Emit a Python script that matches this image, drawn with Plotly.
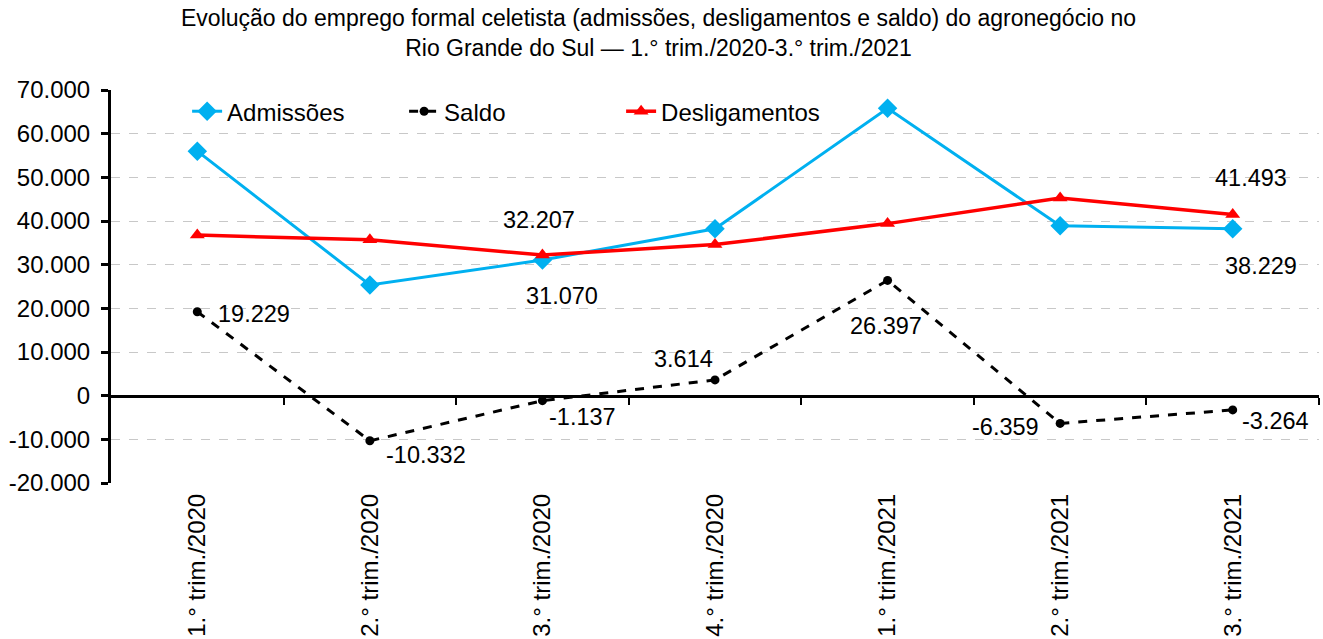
import plotly.graph_objects as go

# --- Data ---
trimestres = ["1.° trim./2020", "2.° trim./2020", "3.° trim./2020", "4.° trim./2020",
              "1.° trim./2021", "2.° trim./2021", "3.° trim./2021"]
admissoes = [56000, 25370, 31070, 38210, 65800, 38900, 38229]
desligamentos = [36771, 35702, 32207, 34596, 39403, 45259, 41493]
saldo = [19229, -10332, -1137, 3614, 26397, -6359, -3264]
y_ticks = [-20000, -10000, 0, 10000, 20000, 30000, 40000, 50000, 60000, 70000]

xs = list(range(len(trimestres)))
FONT = "Liberation Sans, Arial, sans-serif"


def fmt(v):
    # brazilian style thousands separator, plain hyphen for negatives
    return f"{v:,}".replace(",", ".")


fig = go.Figure()

fig.add_trace(go.Scatter(
    x=xs, y=admissoes, name="Admissões", mode="lines+markers",
    line=dict(color="#00b0f0", width=3),
    marker=dict(symbol="diamond", size=15, color="#00b0f0"),
))
fig.add_trace(go.Scatter(
    x=xs, y=saldo, name="Saldo", mode="lines+markers",
    line=dict(color="black", width=3, dash="dash"),
    marker=dict(symbol="circle", size=9, color="black"),
))
fig.add_trace(go.Scatter(
    x=xs, y=desligamentos, name="Desligamentos", mode="lines+markers",
    line=dict(color="#ff0000", width=3.5),
    marker=dict(symbol="triangle-up", size=13, color="#ff0000"),
))

# --- data labels (series, index, xshift, yshift) ---
labels = [
    (saldo, 0, 57, -2), (saldo, 1, 56, -14), (saldo, 2, 40, -16),
    (saldo, 3, -32, 21), (saldo, 4, -2, -46), (saldo, 5, -55, -4),
    (saldo, 6, 43, -11),
    (desligamentos, 2, -3, 35), (desligamentos, 6, 18, 36),
    (admissoes, 2, 20, -36), (admissoes, 6, 28, -37),
]
for serie, i, dx, dy in labels:
    fig.add_annotation(
        x=xs[i], y=serie[i], text=fmt(serie[i]), showarrow=False,
        xshift=dx, yshift=dy, font=dict(size=23.5, color="black", family=FONT),
    )

# title as annotation so both lines stay on the page
fig.add_annotation(
    text="Evolução do emprego formal celetista (admissões, desligamentos e saldo) do agronegócio no<br>"
         "Rio Grande do Sul — 1.° trim./2020-3.° trim./2021",
    xref="paper", yref="paper", x=(658 - 111) / 1208, y=1.222,
    xanchor="center", yanchor="top", showarrow=False, align="center",
    font=dict(size=23, family=FONT, color="black"),
)

fig.update_layout(
    width=1323, height=639,
    margin=dict(l=111, r=4, t=90, b=156),
    paper_bgcolor="white", plot_bgcolor="white",
    font=dict(family=FONT, color="black"),
    legend=dict(
        orientation="h", x=0.063, y=0.945, xanchor="left", yanchor="middle",
        font=dict(size=24), bgcolor="rgba(0,0,0,0)",
        entrywidth=172, entrywidthmode="pixels",
    ),
    xaxis=dict(
        range=[-0.5, 6.5], tickvals=xs, ticktext=trimestres, tickangle=-90,
        showgrid=False, zeroline=False, showline=False, ticks="",
        tickfont=dict(size=24), ticklabelstandoff=5, automargin=False,
    ),
    xaxis2=dict(
        range=[-0.5, 6.5], overlaying="x", anchor="free", position=2 / 9,
        tickvals=[0.5, 1.5, 2.5, 3.5, 4.5, 5.5, 6.5], showticklabels=False,
        showline=True, linecolor="black", linewidth=3,
        ticks="outside", ticklen=7, tickwidth=2, tickcolor="black",
        showgrid=False, zeroline=False,
    ),
    yaxis=dict(
        range=[-20000, 70000], tickvals=y_ticks,
        ticktext=[fmt(v) for v in y_ticks],
        showgrid=True, gridcolor="#c8c8c8", griddash="dash", gridwidth=1,
        zeroline=False, showline=True, linecolor="black", linewidth=3,
        ticks="outside", ticklen=7, tickwidth=3, tickcolor="black",
        tickfont=dict(size=24), ticklabelstandoff=6, automargin=False,
    ),
)

# dummy trace so xaxis2 is drawn
fig.add_trace(go.Scatter(x=[None], y=[None], xaxis="x2", showlegend=False,
                         hoverinfo="skip"))

fig.write_html("out.html", config={"displayModeBar": False},
               post_script="document.body.style.margin='0px';")
